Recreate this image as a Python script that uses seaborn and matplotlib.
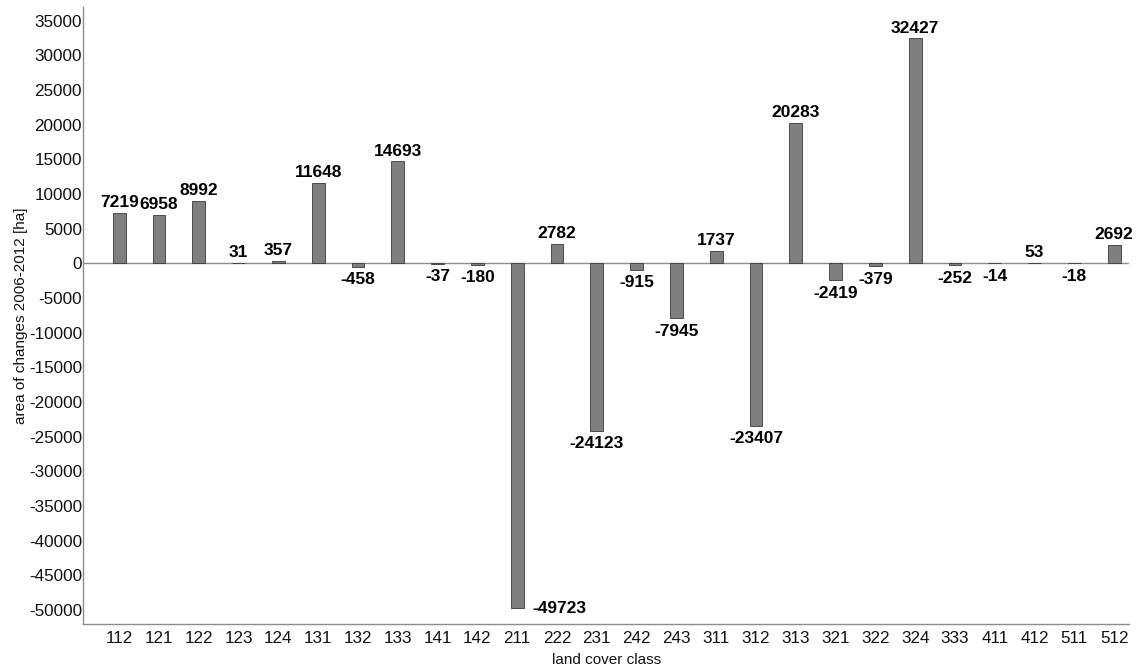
import matplotlib
matplotlib.use("Agg")
import matplotlib.pyplot as plt
import seaborn as sns

classes = ["112", "121", "122", "123", "124", "131", "132", "133", "141", "142",
           "211", "222", "231", "242", "243", "311", "312", "313", "321", "322",
           "324", "333", "411", "412", "511", "512"]
changes = [7219, 6958, 8992, 31, 357, 11648, -458, 14693, -37, -180,
           -49723, 2782, -24123, -915, -7945, 1737, -23407, 20283, -2419, -379,
           32427, -252, -14, 53, -18, 2692]
y_ticks = list(range(-50000, 35001, 5000))

sns.set_style("white")
plt.rcParams['font.family'] = ['Liberation Sans', 'DejaVu Sans']
plt.rcParams['text.color'] = 'black'

fig = plt.figure(figsize=(11.43, 6.66), dpi=100)
ax = fig.add_axes([0.073, 0.063, 0.915, 0.927])

sns.barplot(x=classes, y=changes, color="#7f7f7f", width=0.32,
            edgecolor="#3a3a3a", linewidth=0.6, saturation=1, ax=ax)

ax.axhline(0, color="#8c8c8c", linewidth=1.0, zorder=0.5)

for i, v in enumerate(changes):
    if classes[i] == "211":
        # the long negative bar gets its label beside it
        ax.annotate(str(v), (i + 0.25, v), xytext=(4, 0), textcoords="offset points",
                    ha="left", va="center", fontsize=12.5, fontweight="bold")
    elif v >= 0:
        ax.annotate(str(v), (i, v), xytext=(0, 2), textcoords="offset points",
                    ha="center", va="bottom", fontsize=12.5, fontweight="bold")
    else:
        ax.annotate(str(v), (i, v), xytext=(0, -4), textcoords="offset points",
                    ha="center", va="top", fontsize=12.5, fontweight="bold")

ax.set_ylim(-52000, 37000)
ax.set_xlim(-0.9, 25.38)
ax.set_yticks(y_ticks)
ax.set_yticklabels([str(t) for t in y_ticks])

for side in ["top", "right"]:
    ax.spines[side].set_visible(False)
for side in ["left", "bottom"]:
    ax.spines[side].set_color("#8c8c8c")
    ax.spines[side].set_linewidth(1.0)

ax.tick_params(axis="both", direction="in", length=5, width=0.8, color="#8c8c8c",
               labelsize=12.3, labelcolor="#111111")
ax.tick_params(axis="y", pad=1)
ax.tick_params(axis="x", pad=5)

ax.set_xlabel("land cover class", fontsize=11, labelpad=5, color="#111111")
ax.set_ylabel("area of changes 2006-2012 [ha]", fontsize=11, labelpad=1, color="#111111")

fig.savefig("out.png", dpi=100)
